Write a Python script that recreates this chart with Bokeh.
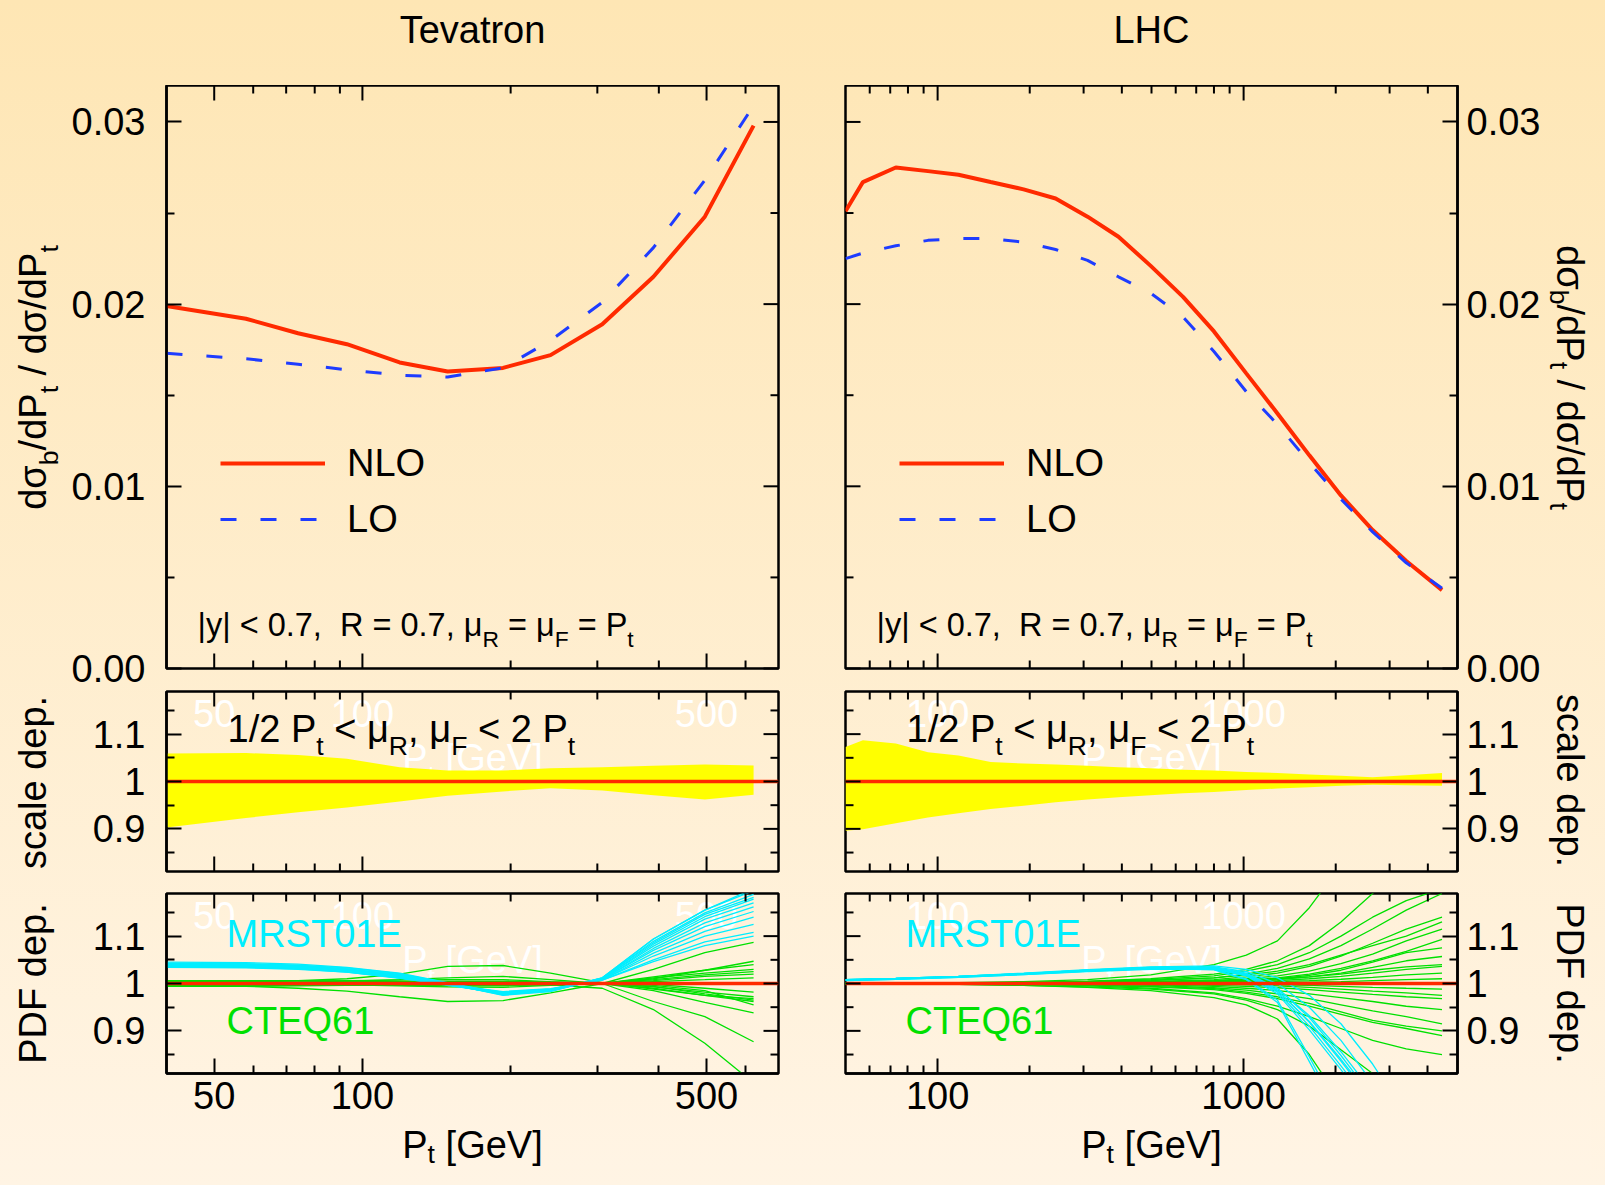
import math
from bokeh.plotting import figure
from bokeh.models import (FixedTicker, PrintfTickFormatter, Label, Span, Legend, LegendItem)
from bokeh.layouts import column, row
from bokeh.embed import file_html
from bokeh.resources import INLINE
try:
    from bokeh.models import GlobalInlineStyleSheet
except Exception:
    GlobalInlineStyleSheet = None

# ---------------- data ----------------
TEV_PT = [40, 58, 74, 93, 119, 149, 193, 241, 307, 390, 496, 623]
TEV_NLO = [0.0199, 0.0192, 0.0184, 0.0178, 0.0168, 0.0163, 0.0165, 0.0172, 0.0189, 0.0215, 0.0248, 0.0298]
TEV_LO = [0.0173, 0.0170, 0.0167, 0.0164, 0.0161, 0.0160, 0.0165, 0.0180, 0.0201, 0.0231, 0.0268, 0.0309]
TEV_SC_UP = [1.059, 1.060, 1.056, 1.048, 1.030, 1.023, 1.023, 1.028, 1.030, 1.033, 1.036, 1.034]
TEV_SC_LO = [0.903, 0.923, 0.935, 0.945, 0.958, 0.970, 0.979, 0.986, 0.981, 0.971, 0.962, 0.972]

TEV_MRST = [
    [1.045, 1.044, 1.041, 1.034, 1.022, 1.002, 0.979, 0.985, 1.012, 1.094, 1.155, 1.200],
    [1.043, 1.042, 1.039, 1.033, 1.021, 1.001, 0.978, 0.985, 1.012, 1.094, 1.155, 1.196],
    [1.042, 1.041, 1.038, 1.031, 1.019, 0.999, 0.976, 0.984, 1.011, 1.089, 1.149, 1.188],
    [1.041, 1.040, 1.037, 1.030, 1.017, 0.998, 0.977, 0.985, 1.010, 1.083, 1.141, 1.178],
    [1.040, 1.039, 1.036, 1.029, 1.016, 0.997, 0.978, 0.986, 1.010, 1.079, 1.136, 1.170],
    [1.039, 1.038, 1.035, 1.028, 1.015, 0.997, 0.979, 0.986, 1.009, 1.074, 1.128, 1.162],
    [1.038, 1.037, 1.034, 1.027, 1.014, 0.997, 0.980, 0.987, 1.009, 1.070, 1.120, 1.152],
    [1.037, 1.036, 1.033, 1.025, 1.012, 0.996, 0.979, 0.986, 1.008, 1.064, 1.110, 1.140],
    [1.036, 1.035, 1.032, 1.025, 1.013, 0.998, 0.981, 0.988, 1.008, 1.058, 1.100, 1.125],
    [1.035, 1.034, 1.031, 1.024, 1.011, 0.997, 0.982, 0.988, 1.007, 1.050, 1.088, 1.108],
    [1.034, 1.033, 1.030, 1.024, 1.012, 0.998, 0.983, 0.989, 1.007, 1.046, 1.080, 1.100],
    [1.041, 1.040, 1.037, 1.031, 1.018, 1.000, 0.975, 0.983, 1.012, 1.086, 1.146, 1.182],
]
TEV_CTEQ = [
    [1.003, 1.004, 1.006, 1.010, 1.020, 1.036, 1.038, 1.022, 1.002, 0.988, 0.975, 0.968],
    [0.995, 0.994, 0.990, 0.984, 0.972, 0.962, 0.964, 0.980, 1.000, 1.014, 1.028, 1.040],
    [1.002, 1.002, 1.003, 1.005, 1.008, 1.012, 1.015, 1.008, 1.000, 1.030, 1.065, 1.087],
    [1.000, 1.000, 1.000, 0.999, 0.998, 0.997, 0.996, 0.997, 0.990, 0.945, 0.874, 0.790],
    [1.001, 1.001, 1.001, 1.002, 1.003, 1.004, 1.004, 1.002, 1.000, 0.962, 0.930, 0.877],
    [0.999, 0.999, 0.999, 0.999, 0.999, 0.998, 0.998, 0.999, 1.000, 0.985, 0.960, 0.938],
    [1.001, 1.001, 1.002, 1.003, 1.004, 1.005, 1.005, 1.003, 1.000, 1.010, 1.028, 1.047],
    [1.000, 1.000, 1.000, 1.000, 1.001, 1.002, 1.002, 1.001, 1.000, 1.006, 1.015, 1.020],
    [0.999, 0.999, 0.998, 0.997, 0.996, 0.995, 0.995, 0.998, 1.000, 0.990, 0.975, 0.962],
    [1.004, 1.004, 1.005, 1.006, 1.007, 1.008, 1.008, 1.004, 1.000, 0.993, 0.982, 0.972],
    [0.996, 0.996, 0.996, 0.996, 0.996, 0.997, 0.997, 0.999, 1.000, 1.004, 1.008, 1.012],
    [1.000, 1.000, 1.001, 1.002, 1.003, 1.003, 1.002, 1.001, 1.000, 0.996, 0.985, 0.955],
    [0.998, 0.998, 0.998, 0.997, 0.995, 0.993, 0.992, 0.996, 1.000, 1.012, 1.022, 1.030],
    [1.002, 1.002, 1.002, 1.002, 1.002, 1.002, 1.001, 1.000, 1.000, 0.998, 0.990, 0.982],
    [1.006, 1.006, 1.006, 1.005, 1.004, 1.003, 1.002, 1.001, 1.000, 1.008, 1.018, 1.025],
    [0.994, 0.994, 0.995, 0.996, 0.997, 0.998, 0.999, 1.000, 1.000, 0.994, 0.978, 0.965],
]

LHC_PT = [50, 57, 73, 93, 117, 149, 191, 243, 309, 390, 497, 634, 800, 1020, 1290, 1640, 2080, 2640, 3400, 4450]
LHC_NLO = [0.0251, 0.0267, 0.0275, 0.0273, 0.0271, 0.0267, 0.0263, 0.0258, 0.0248, 0.0237, 0.0221, 0.0204,
           0.0185, 0.0162, 0.0140, 0.0117, 0.0095, 0.0076, 0.0059, 0.0043]
LHC_LO = [0.0225, 0.0228, 0.0232, 0.0235, 0.0236, 0.0236, 0.0234, 0.0230, 0.0224, 0.0215, 0.0206, 0.0193,
          0.0174, 0.0152, 0.0134, 0.0113, 0.0093, 0.0075, 0.0058, 0.0044]
LHC_SC_UP = [1.073, 1.087, 1.080, 1.062, 1.055, 1.041, 1.038, 1.036, 1.033, 1.030, 1.028, 1.025, 1.023, 1.020,
             1.018, 1.015, 1.012, 1.009, 1.013, 1.018]
LHC_SC_LO = [0.896, 0.899, 0.912, 0.924, 0.933, 0.942, 0.949, 0.956, 0.962, 0.967, 0.971, 0.975, 0.978, 0.982,
             0.985, 0.988, 0.991, 0.993, 0.992, 0.991]

LHC_PDF_PT = [50, 73, 117, 191, 309, 497, 800, 1020, 1290, 1640, 2080, 2640, 3400, 4450]
LHC_MRST = [
    [1.008, 1.011, 1.015, 1.022, 1.029, 1.035, 1.037, 1.030, 1.012, 0.975, 0.915, 0.830, 0.720, 0.620],
    [1.008, 1.011, 1.015, 1.021, 1.028, 1.034, 1.035, 1.025, 1.000, 0.950, 0.880, 0.790, 0.680, 0.580],
    [1.007, 1.010, 1.014, 1.021, 1.028, 1.034, 1.034, 1.022, 0.990, 0.928, 0.848, 0.760, 0.650, 0.550],
    [1.007, 1.010, 1.014, 1.020, 1.027, 1.033, 1.033, 1.020, 0.986, 0.918, 0.836, 0.750, 0.640, 0.540],
    [1.008, 1.011, 1.015, 1.021, 1.027, 1.033, 1.032, 1.018, 0.982, 0.910, 0.826, 0.740, 0.630, 0.530],
    [1.007, 1.010, 1.014, 1.020, 1.026, 1.032, 1.031, 1.016, 0.978, 0.902, 0.818, 0.730, 0.620, 0.520],
    [1.008, 1.011, 1.015, 1.021, 1.028, 1.033, 1.030, 1.010, 0.965, 0.845, 0.720, 0.650, 0.600, 0.550],
    [1.007, 1.010, 1.014, 1.020, 1.027, 1.032, 1.029, 1.008, 0.960, 0.835, 0.710, 0.640, 0.590, 0.540],
    [1.006, 1.009, 1.013, 1.019, 1.026, 1.031, 1.030, 1.017, 0.985, 0.920, 0.840, 0.755, 0.645, 0.545],
    [1.006, 1.009, 1.013, 1.019, 1.025, 1.030, 1.030, 1.019, 0.990, 0.932, 0.856, 0.770, 0.660, 0.560],
]
LHC_CTEQ = [
    [1.000, 1.001, 1.002, 1.004, 1.008, 1.018, 1.040, 1.060, 1.090, 1.160, 1.250, 1.320, 1.400, 1.480],
    [1.000, 1.000, 1.001, 1.002, 1.005, 1.010, 1.020, 1.030, 1.048, 1.080, 1.130, 1.190, 1.250, 1.300],
    [1.000, 1.000, 1.001, 1.002, 1.003, 1.006, 1.012, 1.020, 1.032, 1.052, 1.080, 1.115, 1.155, 1.190],
    [1.000, 1.000, 1.001, 1.001, 1.002, 1.004, 1.008, 1.014, 1.022, 1.036, 1.058, 1.085, 1.115, 1.140],
    [1.000, 1.000, 1.000, 1.001, 1.002, 1.003, 1.006, 1.010, 1.016, 1.026, 1.042, 1.062, 1.090, 1.115],
    [1.000, 1.000, 1.000, 1.001, 1.001, 1.002, 1.004, 1.007, 1.012, 1.020, 1.032, 1.048, 1.068, 1.093],
    [1.000, 1.000, 1.000, 1.000, 1.001, 1.002, 1.003, 1.005, 1.008, 1.014, 1.022, 1.034, 1.048, 1.057],
    [1.000, 1.000, 1.000, 1.000, 1.001, 1.001, 1.002, 1.004, 1.006, 1.010, 1.015, 1.022, 1.030, 1.036],
    [1.000, 1.000, 1.000, 1.000, 1.000, 1.001, 1.002, 1.003, 1.004, 1.006, 1.009, 1.013, 1.018, 1.022],
    [1.000, 1.000, 1.000, 1.000, 1.000, 1.000, 1.001, 1.001, 1.002, 1.003, 1.004, 1.006, 1.008, 1.010],
    [1.000, 1.000, 1.000, 1.000, 1.000, 1.000, 0.999, 0.998, 0.997, 0.996, 0.994, 0.992, 0.990, 0.988],
    [1.000, 1.000, 1.000, 1.000, 0.999, 0.998, 0.996, 0.994, 0.991, 0.987, 0.982, 0.977, 0.972, 0.968],
    [1.000, 1.000, 1.000, 0.999, 0.998, 0.997, 0.994, 0.990, 0.985, 0.978, 0.970, 0.962, 0.952, 0.945],
    [1.000, 1.000, 0.999, 0.999, 0.998, 0.996, 0.991, 0.986, 0.978, 0.968, 0.955, 0.942, 0.930, 0.915],
    [1.000, 1.000, 0.999, 0.998, 0.996, 0.993, 0.987, 0.979, 0.968, 0.952, 0.935, 0.918, 0.905, 0.890],
    [1.000, 0.999, 0.999, 0.998, 0.995, 0.990, 0.980, 0.968, 0.952, 0.930, 0.905, 0.880, 0.862, 0.850],
    [1.000, 0.999, 0.998, 0.996, 0.992, 0.985, 0.970, 0.955, 0.925, 0.850, 0.750, 0.680, 0.620, 0.580],
    [1.000, 0.999, 0.998, 0.996, 0.993, 0.988, 0.978, 0.965, 0.945, 0.910, 0.860, 0.810, 0.760, 0.720],
    [1.000, 1.000, 1.000, 1.001, 1.002, 1.004, 1.006, 1.008, 1.010, 1.014, 1.020, 1.028, 1.035, 1.040],
    [1.000, 1.000, 1.000, 1.000, 1.000, 0.999, 0.998, 0.997, 0.995, 0.992, 0.988, 0.984, 0.980, 0.975],
    [1.000, 1.000, 1.001, 1.002, 1.004, 1.007, 1.012, 1.018, 1.026, 1.040, 1.060, 1.080, 1.100, 1.130],
    [1.000, 1.000, 0.999, 0.999, 0.997, 0.994, 0.989, 0.982, 0.972, 0.958, 0.940, 0.922, 0.910, 0.900],
    [1.000, 1.000, 1.001, 1.002, 1.004, 1.008, 1.016, 1.026, 1.040, 1.065, 1.100, 1.140, 1.175, 1.200],
    [1.000, 1.000, 1.000, 1.001, 1.002, 1.003, 1.005, 1.007, 1.010, 1.017, 1.028, 1.045, 1.065, 1.075],
]

TEV_XRANGE = (40, 700)
LHC_XRANGE = (50, 5000)
TEV_XMAJOR = [50, 100, 500]
TEV_XMINOR = [60, 70, 80, 90, 200, 300, 400, 600]
LHC_XMAJOR = [100, 1000]
LHC_XMINOR = [60, 70, 80, 90, 200, 300, 400, 500, 600, 700, 800, 900, 2000, 3000, 4000]
TOP_YRANGE = (0.0, 0.032)
TOP_YMAJOR = [0.0, 0.01, 0.02, 0.03]
TOP_YMINOR = [0.005, 0.015, 0.025]
RAT_YRANGE = (0.81, 1.19)
RAT_YMAJOR = [0.9, 1.0, 1.1]
RAT_YMINOR = [0.85, 0.95, 1.05, 1.15]

# ---------------- style ----------------
FONT = "Liberation Sans"
RED = "#FF2A00"
BLUE = "#1E3CFF"
YELLOW = "#FFFF00"
CYAN = "#00EEFF"
GREEN = "#00E000"
FS = 38
FS_CUT = 32.5
MAJ_LEN, MIN_LEN, TICK_W = 15, 8, 2
MID = 0.35   # height of the 'middle' text baseline above the alphabetic baseline, in em

CW = {' ': 278, '.': 278, ',': 278, '/': 278, '<': 584, '=': 584, '|': 260, '[': 278, ']': 278,
      'a': 556, 'b': 556, 'c': 500, 'd': 556, 'e': 556, 'l': 222, 'n': 556, 'o': 556, 'p': 556,
      'r': 333, 's': 500, 't': 278, 'v': 500, 'y': 500,
      'C': 722, 'D': 722, 'E': 667, 'F': 611, 'G': 778, 'H': 722, 'L': 556, 'M': 833, 'N': 722,
      'O': 778, 'P': 667, 'Q': 778, 'R': 722, 'S': 667, 'T': 611, 'V': 667,
      'σ': 620, 'μ': 577}
for d in "0123456789":
    CW[d] = 556


def text_w(t):
    return sum(CW.get(ch, 556) for ch in t) / 1000.0


SUB = 0.7

# ---------------- layout geometry (pixels from the top-left of the layout) ----------------
TOTAL_W = 1589
TOTAL_H = 1169
FW = 612
LS_W = 66                      # left strip for rotated axis titles
RS_X0 = 1541                   # right strip start
RS_W = TOTAL_W - RS_X0
TOP_H = 85                     # strip for panel titles
# rows: (frame top, frame height, border top, border bottom)
ROWS = {"T": (85, 583, 0, 22), "M": (691, 180, 1, 11), "B": (893, 180, 11, 50)}
# columns: (frame left, border left, border right)
COLS = {"L": (166, 166 - LS_W, 33), "R": (845, 34, RS_X0 - 845 - FW)}
BOT_Y0 = 893 + 180 + 50
BOT_H = TOTAL_H - BOT_Y0


def style_axis(ax, major, minor, fmt, standoff):
    ax.ticker = FixedTicker(ticks=major, minor_ticks=minor)
    ax.axis_line_width = 2.5
    ax.axis_line_color = "black"
    ax.major_tick_in = MAJ_LEN
    ax.major_tick_out = 0
    ax.minor_tick_in = MIN_LEN
    ax.minor_tick_out = 0
    ax.major_tick_line_width = TICK_W
    ax.minor_tick_line_width = TICK_W
    ax.major_tick_line_color = "black"
    ax.minor_tick_line_color = "black"
    ax.formatter = PrintfTickFormatter(format=fmt)
    ax.major_label_text_font = FONT
    ax.major_label_text_font_size = f"{FS}px"
    ax.major_label_text_color = "black"
    ax.major_label_standoff = standoff


def edge_ticks(p, ticks, edge, length):
    # inward tick marks on an unlabeled frame edge, length in screen pixels
    xr, yr = p.x_range, p.y_range
    n = len(ticks)
    kw = dict(length=length, length_units="screen", line_color="black", line_width=TICK_W, level="guide")
    if edge == "top":
        p.ray(x=ticks, y=[yr.end] * n, angle=-math.pi / 2, **kw)
    elif edge == "bottom":
        p.ray(x=ticks, y=[yr.start] * n, angle=math.pi / 2, **kw)
    elif edge == "left":
        p.ray(x=[xr.start] * n, y=ticks, angle=0.0, **kw)
    else:
        p.ray(x=[xr.end] * n, y=ticks, angle=math.pi, **kw)


def make_fig(side, rk, xr, xmaj, xmin, yr, ymaj, ymin, yfmt, xlab):
    fl, mbl, mbr = COLS[side]
    top, h, mbt, mbb = ROWS[rk]
    p = figure(x_axis_type="log", x_range=xr, y_range=yr, frame_width=FW, frame_height=h,
               min_border_left=mbl, min_border_right=mbr, min_border_top=mbt, min_border_bottom=mbb,
               output_backend="svg", toolbar_location=None,
               y_axis_location=("left" if side == "L" else "right"),
               background_fill_alpha=0, border_fill_alpha=0,
               outline_line_color="black", outline_line_width=2.5)
    p.xgrid.visible = False
    p.ygrid.visible = False
    if xlab:
        style_axis(p.below[0], xmaj, xmin, "%d", 8)
    else:
        p.xaxis.visible = False
    yax = p.left[0] if side == "L" else p.right[0]
    style_axis(yax, ymaj, ymin, yfmt, 21 if side == "L" else 9)
    edge_ticks(p, xmaj, "top", MAJ_LEN)
    edge_ticks(p, xmin, "top", MIN_LEN)
    if not xlab:
        edge_ticks(p, xmaj, "bottom", MAJ_LEN)
        edge_ticks(p, xmin, "bottom", MIN_LEN)
    other = "right" if side == "L" else "left"
    edge_ticks(p, ymaj, other, MAJ_LEN)
    edge_ticks(p, ymin, other, MIN_LEN)
    return p, (fl, top + h, top)


def strip(x0, y0, w, h):
    p = figure(width=w, height=h, x_range=(0, w), y_range=(0, h), min_border=0,
               toolbar_location=None, output_backend="svg",
               x_axis_location=None, y_axis_location=None,
               background_fill_alpha=0, border_fill_alpha=0, outline_line_color=None)
    p.grid.visible = False
    return p, (x0, y0 + h, y0)


def rich(p, geo, parts, size, color, px, py, align="left", angle=0.0, level="annotation", shift=0.33):
    """Compose a label with subscripts; (px, py) is the alphabetic baseline start (or centre)."""
    fl, fb, _ = geo
    widths = [text_w(t) * (size if k == "n" else size * SUB) for t, k in parts]
    total = sum(widths)
    a = 0.0 if align == "left" else -total / 2.0
    bx = px - fl
    by = fb - py
    c, s = math.cos(angle), math.sin(angle)
    for (t, k), w in zip(parts, widths):
        sz = size if k == "n" else size * SUB
        v = MID * sz if k == "n" else -shift * size + MID * sz
        stripped = t.lstrip(" ")
        lead = (len(t) - len(stripped)) * 0.278 * sz
        txt = stripped.rstrip(" ")
        if txt:
            aa = a + lead
            xo = bx + aa * c - v * s
            yo = by + aa * s + v * c
            p.add_layout(Label(x=p.x_range.start, y=p.y_range.start, x_offset=xo, y_offset=yo,
                               text=txt, angle=angle, text_font=FONT, text_font_size=f"{sz:.1f}px",
                               text_color=color, text_align="left", text_baseline="middle",
                               level=level))
        a += w


def simple(p, geo, text, size, color, px, py, angle=0.0, align="center", level="annotation"):
    """Plain label whose vertical middle sits at (px, py)."""
    fl, fb, _ = geo
    p.add_layout(Label(x=p.x_range.start, y=p.y_range.start, x_offset=px - fl, y_offset=fb - py,
                       text=text, angle=angle, text_font=FONT, text_font_size=f"{size}px",
                       text_color=color, text_align=align, text_baseline="middle", level=level))


YTITLE = [("dσ", "n"), ("b", "s"), ("/dP", "n"), ("t", "s"), (" / dσ/dP", "n"), ("t", "s")]
PTLABEL = [("P", "n"), ("t", "s"), (" [GeV]", "n")]
CUTS = [("|y| < 0.7,", "n"), ("  R = 0.7, μ", "n"), ("R", "s"), (" = μ", "n"), ("F", "s"), (" = P", "n"), ("t", "s")]
SCALE = [("1/2 P", "n"), ("t", "s"), (" < μ", "n"), ("R", "s"), (", μ", "n"), ("F", "s"), (" < 2 P", "n"), ("t", "s")]


def top_panel(side, xr, xmaj, xmin, pt, nlo, lo):
    p, geo = make_fig(side, "T", xr, xmaj, xmin, TOP_YRANGE, TOP_YMAJOR, TOP_YMINOR, "%.2f", False)
    fl, fb, ft = geo
    r1 = p.line(pt, nlo, line_color=RED, line_width=4)
    r2 = p.line(pt, lo, line_color=BLUE, line_width=3, line_dash="16 24")
    leg = Legend(items=[LegendItem(label="NLO", renderers=[r1]), LegendItem(label="LO", renderers=[r2])],
                 location=(54, 121), glyph_width=105, glyph_height=56, label_height=56,
                 label_standoff=22, spacing=0, padding=0, margin=0,
                 background_fill_alpha=0, border_line_alpha=0,
                 label_text_font=FONT, label_text_font_size=f"{FS}px", label_text_color="black")
    p.add_layout(leg)
    rich(p, geo, CUTS, FS_CUT, "black", fl + 31, 636)
    return p


def white_labels(p, geo, xmaj):
    fl, fb, ft = geo
    for t in xmaj:
        p.add_layout(Label(x=t, y=p.y_range.end, y_offset=-22, text=str(t), text_font=FONT,
                           text_font_size=f"{FS}px", text_color="white", text_align="center",
                           text_baseline="middle", level="underlay"))
    rich(p, geo, PTLABEL, FS, "white", fl + FW / 2, ft + 80, align="center", level="underlay")


def scale_panel(side, xr, xmaj, xmin, pt, up, lo):
    p, geo = make_fig(side, "M", xr, xmaj, xmin, RAT_YRANGE, RAT_YMAJOR, RAT_YMINOR, "%g", False)
    fl, fb, ft = geo
    white_labels(p, geo, xmaj)
    p.varea(x=pt, y1=lo, y2=up, fill_color=YELLOW, fill_alpha=1)
    p.add_layout(Span(location=1.0, dimension="width", line_color=RED, line_width=3.5, level="glyph"))
    rich(p, geo, SCALE, FS, "black", fl + 61, 742)
    return p


def pdf_panel(side, xr, xmaj, xmin, pt, cteq, mrst):
    p, geo = make_fig(side, "B", xr, xmaj, xmin, RAT_YRANGE, RAT_YMAJOR, RAT_YMINOR, "%g", True)
    fl, fb, ft = geo
    white_labels(p, geo, xmaj)
    for m in cteq:
        p.line(pt, m, line_color=GREEN, line_width=1.3)
    for m in mrst:
        p.line(pt, m, line_color=CYAN, line_width=1.3)
    p.add_layout(Span(location=1.0, dimension="width", line_color=RED, line_width=3.5, level="glyph"))
    simple(p, geo, "MRST01E", FS, CYAN, fl + 60, 933, align="left")
    simple(p, geo, "CTEQ61", FS, GREEN, fl + 60, 1020, align="left")
    return p


p1 = top_panel("L", TEV_XRANGE, TEV_XMAJOR, TEV_XMINOR, TEV_PT, TEV_NLO, TEV_LO)
p2 = top_panel("R", LHC_XRANGE, LHC_XMAJOR, LHC_XMINOR, LHC_PT, LHC_NLO, LHC_LO)
p3 = scale_panel("L", TEV_XRANGE, TEV_XMAJOR, TEV_XMINOR, TEV_PT, TEV_SC_UP, TEV_SC_LO)
p4 = scale_panel("R", LHC_XRANGE, LHC_XMAJOR, LHC_XMINOR, LHC_PT, LHC_SC_UP, LHC_SC_LO)
p5 = pdf_panel("L", TEV_XRANGE, TEV_XMAJOR, TEV_XMINOR, TEV_PT, TEV_CTEQ, TEV_MRST)
p6 = pdf_panel("R", LHC_XRANGE, LHC_XMAJOR, LHC_XMINOR, LHC_PDF_PT, LHC_CTEQ, LHC_MRST)

MAIN_W = RS_X0 - LS_W
# title strip (panel titles)
ts, tgeo = strip(LS_W, 0, MAIN_W, TOP_H)
simple(ts, tgeo, "Tevatron", FS, "black", 166 + FW / 2, 29)
simple(ts, tgeo, "LHC", FS, "black", 845 + FW / 2, 29)
# bottom strip (x-axis titles)
bs, bgeo = strip(LS_W, BOT_Y0, MAIN_W, BOT_H)
rich(bs, bgeo, PTLABEL, FS, "black", 166 + FW / 2, 1157.8, align="center", shift=0.14)
rich(bs, bgeo, PTLABEL, FS, "black", 845 + FW / 2, 1157.8, align="center", shift=0.14)
# left strip (rotated y titles, reading upward)
lsp, lgeo = strip(0, 0, LS_W, TOTAL_H)
rich(lsp, lgeo, YTITLE, FS, "black", 46, 377, align="center", angle=math.pi / 2, shift=0.3)
simple(lsp, lgeo, "scale dep.", FS, "black", 32, 782, angle=math.pi / 2)
simple(lsp, lgeo, "PDF dep.", FS, "black", 32, 983, angle=math.pi / 2)
# right strip (rotated y titles, reading downward)
rsp, rgeo = strip(RS_X0, 0, RS_W, TOTAL_H)
rich(rsp, rgeo, YTITLE, FS, "black", 1554.4, 377, align="center", angle=-math.pi / 2, shift=0.2)
simple(rsp, rgeo, "scale dep.", FS, "black", 1567, 780, angle=-math.pi / 2)
simple(rsp, rgeo, "PDF dep.", FS, "black", 1567, 983, angle=-math.pi / 2)

GRAD = "linear-gradient(180deg, #FEE6B4 0%, #FFF4E4 100%)"
kw = dict(styles={"background": GRAD})
if GlobalInlineStyleSheet is not None:
    kw["stylesheets"] = [GlobalInlineStyleSheet(css="html { background: %s; min-height: 100%%; }" % GRAD)]

main = column(ts, row(p1, p2), row(p3, p4), row(p5, p6), bs)
layout = row(lsp, main, rsp, **kw)

open("out.html", "w").write(file_html(layout, INLINE, title="b-jet fraction"))
